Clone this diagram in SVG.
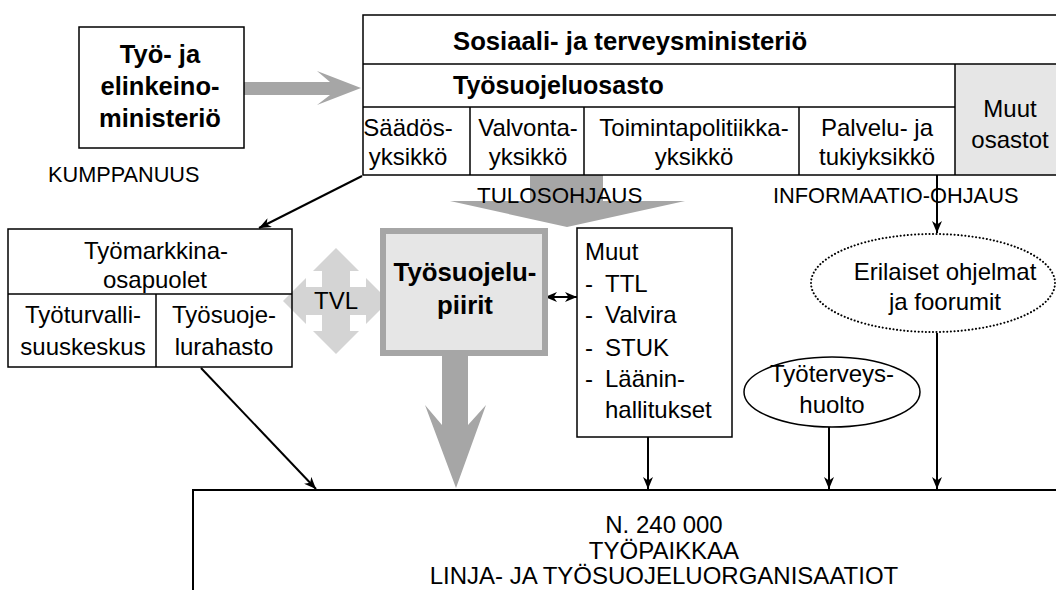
<svg xmlns="http://www.w3.org/2000/svg" width="1056" height="590" viewBox="0 0 1056 590">
<style>
.box{fill:none;stroke:#000;stroke-width:1.5}
.t{font-family:"Liberation Sans",Arial,sans-serif;font-size:24px;fill:#000}
.b{font-weight:bold}
.c{text-anchor:middle}
.conn{stroke:#000;stroke-width:2;fill:none;marker-end:url(#ah)}
.g{fill:#a6a6a6}
.light{fill:#e6e6e6}
</style>
<defs>
<marker id="ah" viewBox="0 0 12 10" refX="12" refY="5" markerWidth="12" markerHeight="10" markerUnits="userSpaceOnUse" orient="auto-start-reverse"><path d="M0,0 L12,5 L0,10 L3.5,5 Z" fill="#000"/></marker>
</defs>
<rect width="1056" height="590" fill="#fff"/>

<g id="connectors">
<polygon class="g" points="244,82 330,82 317,71 361,88 317,105 330,95 244,95"/>
<polygon class="g" points="530,175 603,175 603,201 685,201 567,227 450,201 530,201"/>
<polygon class="g" points="442,356 468,356 468,425 486,405 456,488 425,405 442,425"/>
<line class="conn" x1="362" y1="176" x2="259" y2="228"/>
<line class="conn" x1="201" y1="368" x2="316" y2="489"/>
<line class="conn" x1="648" y1="437" x2="648" y2="489"/>
<line class="conn" x1="829" y1="427" x2="829" y2="489"/>
<line class="conn" x1="937" y1="333" x2="937" y2="489"/>
<line class="conn" x1="937" y1="175" x2="937" y2="233"/>
<line class="conn" x1="545" y1="297" x2="577" y2="297" marker-start="url(#ah)"/>
</g>

<g id="tem">
<rect class="box" x="79" y="27" width="165" height="121"/>
<text class="t b c" x="160" y="63" style="font-size:25.5px">Työ- ja</text>
<text class="t b c" x="160" y="95" style="font-size:25.5px">elinkeino-</text>
<text class="t b c" x="160" y="127" style="font-size:25.5px">ministeriö</text>
</g>

<text class="t" x="48" y="182" style="font-size:21.7px">KUMPPANUUS</text>

<g id="stm">
<rect class="light" x="955" y="64" width="101" height="111"/>
<rect class="box" x="363" y="15" width="700" height="160"/>
<line class="box" x1="363" y1="64" x2="1056" y2="64"/>
<line class="box" x1="363" y1="107" x2="955" y2="107"/>
<line class="box" x1="955" y1="64" x2="955" y2="175"/>
<line class="box" x1="470" y1="107" x2="470" y2="175"/>
<line class="box" x1="584" y1="107" x2="584" y2="175"/>
<line class="box" x1="799" y1="107" x2="799" y2="175"/>
<text class="t b" x="453" y="50" style="font-size:25.7px">Sosiaali- ja terveysministeriö</text>
<text class="t b" x="453" y="94" style="font-size:25px">Työsuojeluosasto</text>
<text class="t c" x="408" y="136">Säädös-</text>
<text class="t c" x="408" y="165">yksikkö</text>
<text class="t c" x="528" y="136">Valvonta-</text>
<text class="t c" x="528" y="165">yksikkö</text>
<text class="t c" x="694" y="136">Toimintapolitiikka-</text>
<text class="t c" x="694" y="165">yksikkö</text>
<text class="t c" x="877" y="136">Palvelu- ja</text>
<text class="t c" x="877" y="165">tukiyksikkö</text>
<text class="t c" x="1010" y="117">Muut</text>
<text class="t c" x="1010" y="148">osastot</text>
</g>

<text class="t" x="477" y="203" style="font-size:22.4px">TULOSOHJAUS</text>
<text class="t" x="773" y="203" style="font-size:21.8px">INFORMAATIO-OHJAUS</text>
<line x1="937" y1="175" x2="937" y2="222" stroke="#000" stroke-width="2"/>

<g id="tvl">
<polygon fill="#d4d4d4" transform="translate(336,301)" points="0,-53 23,-30 14,-30 14,-14 30,-14 30,-23 53,0 30,23 30,14 14,14 14,30 23,30 0,53 -23,30 -14,30 -14,14 -30,14 -30,23 -53,0 -30,-23 -30,-14 -14,-14 -14,-30 -23,-30"/>
<text class="t c" x="336" y="309">TVL</text>
</g>

<g id="tyomarkkina">
<rect class="box" x="8" y="229" width="284" height="138"/>
<line class="box" x1="8" y1="294" x2="292" y2="294"/>
<line class="box" x1="156" y1="294" x2="156" y2="367"/>
<text class="t c" x="156" y="259">Työmarkkina-</text>
<text class="t c" x="155" y="288">osapuolet</text>
<text class="t c" x="83" y="323">Työturvalli-</text>
<text class="t c" x="83" y="355">suuskeskus</text>
<text class="t c" x="224" y="323">Työsuoje-</text>
<text class="t c" x="224" y="355">lurahasto</text>
</g>

<g id="piirit">
<rect x="383" y="231" width="162" height="122" fill="#e6e6e6" stroke="#a6a6a6" stroke-width="6"/>
<text class="t b c" x="465" y="281" style="font-size:25.8px">Työsuojelu-</text>
<text class="t b c" x="465" y="314" style="font-size:25.8px">piirit</text>
</g>

<g id="muut">
<rect class="box" x="577" y="228" width="155" height="209"/>
<text class="t" x="585" y="260">Muut</text>
<text class="t" x="585" y="292">-</text><text class="t" x="605" y="292">TTL</text>
<text class="t" x="585" y="323">-</text><text class="t" x="605" y="323">Valvira</text>
<text class="t" x="585" y="356">-</text><text class="t" x="605" y="356">STUK</text>
<text class="t" x="585" y="387">-</text><text class="t" x="605" y="387">Läänin-</text>
<text class="t" x="605" y="418">hallitukset</text>
</g>

<g id="erilaiset">
<ellipse cx="933" cy="283" rx="122" ry="49" fill="none" stroke="#000" stroke-width="2" stroke-dasharray="0.1 3.5" stroke-linecap="round"/>
<text class="t c" x="945" y="280">Erilaiset ohjelmat</text>
<text class="t c" x="945" y="310">ja foorumit</text>
</g>

<g id="tyoterveys">
<ellipse cx="832" cy="392" rx="88" ry="35" fill="none" stroke="#000" stroke-width="1.5"/>
<text class="t c" x="832" y="382">Työterveys-</text>
<text class="t c" x="832" y="413">huolto</text>
</g>

<g id="tyopaikat">
<rect x="193" y="490" width="880" height="120" fill="none" stroke="#000" stroke-width="2"/>
<text class="t c" x="664" y="533">N. 240 000</text>
<text class="t c" x="664" y="559">TYÖPAIKKAA</text>
<text class="t c" x="664" y="584">LINJA- JA TYÖSUOJELUORGANISAATIOT</text>
</g>
</svg>
